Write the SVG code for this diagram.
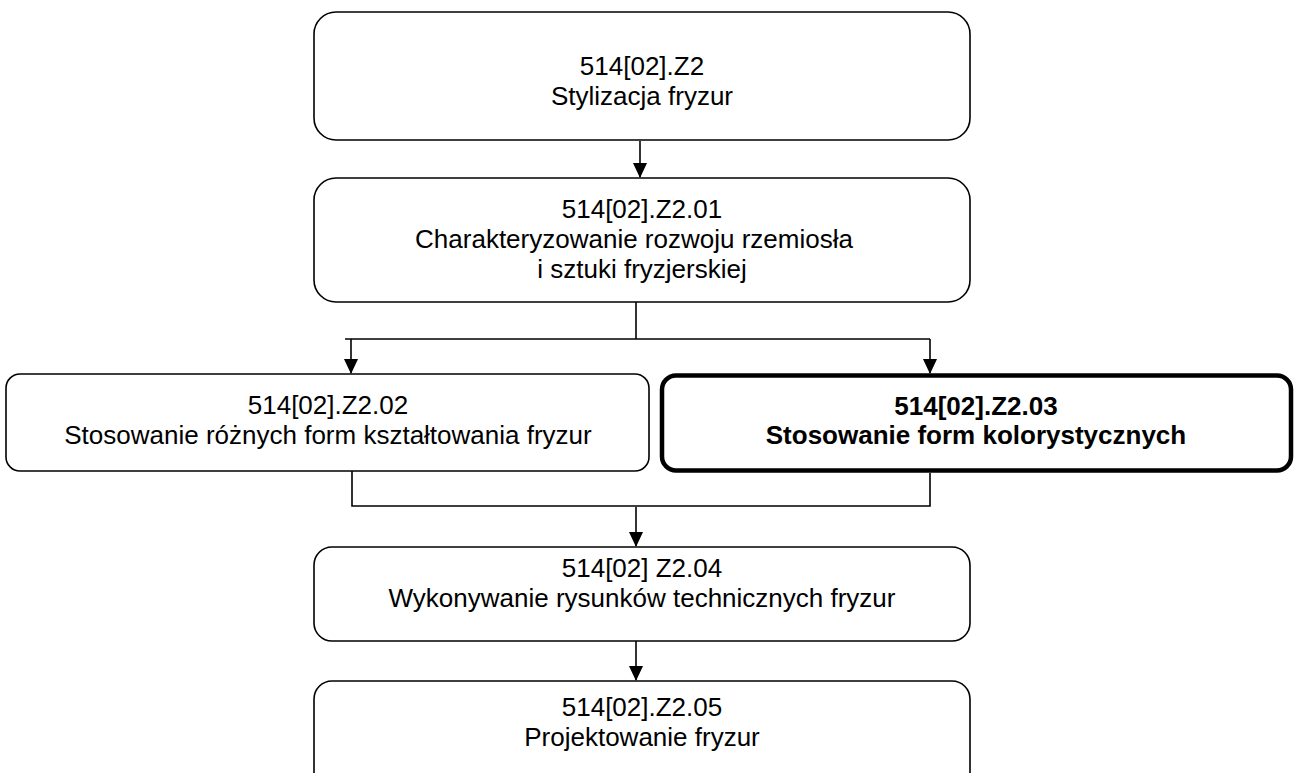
<svg xmlns="http://www.w3.org/2000/svg" width="1294" height="773" viewBox="0 0 1294 773">
<defs>
<marker id="ah" markerWidth="15" markerHeight="15" refX="14" refY="7" orient="auto" markerUnits="userSpaceOnUse">
<path d="M0,0 L15,7 L0,14 z" fill="#000"/>
</marker>
</defs>
<style>
.box{fill:#fff;stroke:#000;stroke-width:1.6}
.bold{stroke-width:4.5}
.t{font-family:"Liberation Sans",Arial,sans-serif;font-size:26px;fill:#000;text-anchor:middle}
.tb{font-weight:bold}
.c{fill:none;stroke:#000;stroke-width:1.6}
</style>
<rect width="1294" height="773" fill="#fff"/>
<g id="connectors">
<line class="c" x1="640" y1="141" x2="640" y2="177" marker-end="url(#ah)"/>
<polyline class="c" points="636,302 636,339"/>
<line class="c" x1="345" y1="339" x2="930" y2="339"/>
<line class="c" x1="351" y1="339" x2="351" y2="373" marker-end="url(#ah)"/>
<line class="c" x1="930" y1="339" x2="930" y2="373" marker-end="url(#ah)"/>
<polyline class="c" points="352,471 352,506 930,506 930,473"/>
<line class="c" x1="636" y1="507" x2="636" y2="546" marker-end="url(#ah)"/>
<line class="c" x1="636" y1="641" x2="636" y2="680" marker-end="url(#ah)"/>
</g>
<g id="n1">
<rect class="box" x="314" y="12" width="656" height="128" rx="22"/>
<text class="t" x="642" y="75">514[02].Z2</text>
<text class="t" x="642" y="105">Stylizacja fryzur</text>
</g>
<g id="n2">
<rect class="box" x="314" y="178" width="656" height="124" rx="22"/>
<text class="t" x="642" y="218">514[02].Z2.01</text>
<text class="t" x="634" y="248">Charakteryzowanie rozwoju rzemiosła</text>
<text class="t" x="642" y="278">i sztuki fryzjerskiej</text>
</g>
<g id="n3">
<rect class="box" x="6" y="374" width="643" height="97" rx="14"/>
<text class="t" x="328" y="414">514[02].Z2.02</text>
<text class="t" x="328" y="444">Stosowanie różnych form kształtowania fryzur</text>
</g>
<g id="n4">
<rect class="box bold" x="662" y="375.5" width="629" height="95" rx="14"/>
<text class="t tb" x="976" y="415">514[02].Z2.03</text>
<text class="t tb" x="976" y="444">Stosowanie form kolorystycznych</text>
</g>
<g id="n5">
<rect class="box" x="314" y="547" width="656" height="94" rx="18"/>
<text class="t" x="642" y="577">514[02] Z2.04</text>
<text class="t" x="642" y="607">Wykonywanie rysunków technicznych fryzur</text>
</g>
<g id="n6">
<rect class="box" x="314" y="681" width="656" height="110" rx="18"/>
<text class="t" x="642" y="716">514[02].Z2.05</text>
<text class="t" x="642" y="746">Projektowanie fryzur</text>
</g>
</svg>
